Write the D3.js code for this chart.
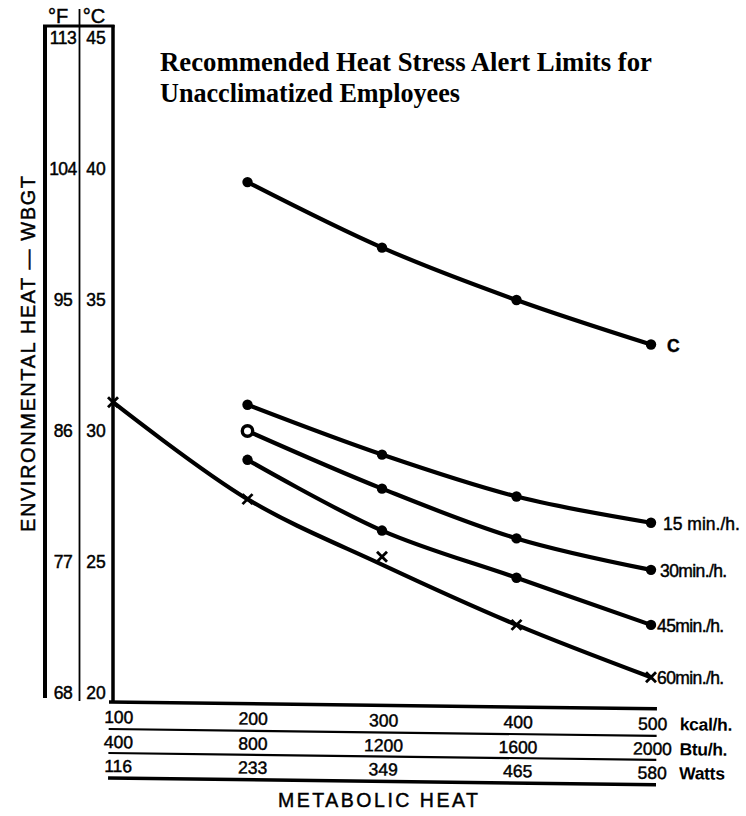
<!DOCTYPE html>
<html><head><meta charset="utf-8">
<script src="https://cdn.jsdelivr.net/npm/d3@7"></script>
<style>body{margin:0;background:#fff}svg{display:block}</style>
</head><body><svg id="c" width="746" height="816"></svg>
<script>
// ---- data ----
const kcal = [100, 200, 300, 400, 500];
const btu = [400, 800, 1200, 1600, 2000];
const watts = [116, 233, 349, 465, 580];
const fTicks = [113, 104, 95, 86, 77, 68];
const cTicks = [45, 40, 35, 30, 25, 20];
const curveX = [200, 300, 400, 500];
const ceilingC = [39.5, 37.0, 35.0, 33.3];
const min15 = [31.0, 29.1, 27.5, 26.5];
const min30 = [30.0, 27.8, 25.9, 24.7];
const min45 = [28.9, 26.2, 24.4, 22.6];
const min60X = [100, 200, 300, 400, 500];
const min60Marks = [31.1, 27.4, 25.2, 22.6, 20.6];
const min60Line = [31.1, 27.4, 24.9, 22.6, 20.6];
const seriesLabels = ["C", "15 min./h.", "30min./h.", "45min./h.", "60min./h."];
const unitLabels = ["kcal/h.", "Btu/h.", "Watts"];
const titleLines = ["Recommended Heat Stress Alert Limits for", "Unacclimatized Employees"];

// ---- scales ----
const svg = d3.select("#c");
const x = d3.scaleLinear().domain([100, 500]).range([113, 651]);
const y = d3.scaleLinear().domain([20, 45]).range([693, 38]);
const sans = "'Liberation Sans', Arial, sans-serif";
const ink = sel => sel.attr("fill", "#000").attr("stroke", "#000").attr("stroke-width", 0.45);

// ---- left frame (°F / °C columns) ----
const frame = svg.append("g").attr("stroke", "#000").attr("fill", "none");
frame.append("line").attr("x1", 45).attr("x2", 45).attr("y1", 25).attr("y2", 698).attr("stroke-width", 4);
frame.append("line").attr("x1", 79.5).attr("x2", 79.5).attr("y1", 9).attr("y2", 701).attr("stroke-width", 1.8);
frame.append("line").attr("x1", x(100)).attr("x2", x(100)).attr("y1", 25).attr("y2", 703).attr("stroke-width", 3.5);
frame.append("line").attr("x1", 43).attr("x2", x(100) + 1.5).attr("y1", 26).attr("y2", 26).attr("stroke-width", 3);

svg.append("text").attr("x", 58).attr("y", 23).attr("text-anchor", "middle")
  .attr("font-family", sans).attr("font-size", 20).call(ink).text("°F");
svg.append("text").attr("x", 94).attr("y", 23).attr("text-anchor", "middle")
  .attr("font-family", sans).attr("font-size", 20).call(ink).text("°C");

svg.append("g").selectAll("text").data(fTicks).join("text")
  .attr("x", 63).attr("y", (d, i) => y(cTicks[i])).attr("dy", "0.36em")
  .attr("text-anchor", "middle").attr("font-family", sans).attr("font-size", 17.5)
  .attr("letter-spacing", -0.5).call(ink)
  .text(d => d);
svg.append("g").selectAll("text").data(cTicks).join("text")
  .attr("x", 96).attr("y", d => y(d)).attr("dy", "0.36em")
  .attr("text-anchor", "middle").attr("font-family", sans).attr("font-size", 17.5)
  .call(ink)
  .text(d => d);

// y title
svg.append("text")
  .attr("transform", "translate(35,354) rotate(-90)")
  .attr("text-anchor", "middle").attr("font-family", sans).attr("font-size", 20)
  .attr("textLength", 356).attr("lengthAdjust", "spacing").call(ink)
  .text("ENVIRONMENTAL  HEAT — WBGT");

// ---- title ----
svg.append("g").selectAll("text").data(titleLines).join("text")
  .attr("x", 160).attr("y", (d, i) => 71 + i * 31)
  .attr("font-family", "'Liberation Serif', 'Times New Roman', serif")
  .attr("font-weight", "bold").attr("font-size", 26.5)
  .attr("textLength", (d, i) => i === 0 ? 492 : 300).attr("lengthAdjust", "spacingAndGlyphs")
  .text(d => d);

// ---- bottom axis block (slightly skewed like the scan) ----
const bottom = svg.append("g").attr("transform", "rotate(0.72,110,702)");
const lineYs = [702, 729, 753, 778];
const lineW = [3.5, 2.2, 2.2, 3.5];
bottom.selectAll("line").data(lineYs).join("line")
  .attr("x1", 109).attr("x2", 657).attr("y1", d => d).attr("y2", d => d)
  .attr("stroke", "#000").attr("stroke-width", (d, i) => lineW[i]);
const rows = [kcal, btu, watts];
const rowBase = [723, 748, 772];
rows.forEach((row, r) => {
  bottom.append("g").selectAll("text").data(row).join("text")
    .attr("x", (d, i) => x(kcal[i]) + (i < 2 ? 6 : 2))
    .attr("y", rowBase[r]).attr("text-anchor", "middle")
    .attr("font-family", sans).attr("font-size", 17.5).call(ink).text(d => d);
  bottom.append("text").attr("x", 680).attr("y", rowBase[r])
    .attr("font-family", sans).attr("font-size", 17.5).attr("font-weight", "bold")
    .attr("letter-spacing", -0.3)
    .text(unitLabels[r]);
});
svg.append("text").attr("x", 378).attr("y", 807).attr("text-anchor", "middle")
  .attr("font-family", sans).attr("font-size", 19.5)
  .attr("textLength", 200).attr("lengthAdjust", "spacing").call(ink)
  .text("METABOLIC HEAT");

// ---- curves ----
const line = d3.line().x(d => x(d[0])).y(d => y(d[1])).curve(d3.curveCatmullRom.alpha(0.5));
const series = [
  { vals: ceilingC, xs: curveX },
  { vals: min15, xs: curveX },
  { vals: min30, xs: curveX },
  { vals: min45, xs: curveX }
];
const plot = svg.append("g");
series.forEach(s => {
  plot.append("path").datum(s.xs.map((xv, i) => [xv, s.vals[i]]))
    .attr("d", line).attr("fill", "none").attr("stroke", "#000")
    .attr("stroke-width", 4.2).attr("stroke-linecap", "round");
});
plot.append("path").datum(min60X.map((xv, i) => [xv, min60Line[i]]))
  .attr("d", line).attr("fill", "none").attr("stroke", "#000")
  .attr("stroke-width", 4.2).attr("stroke-linecap", "round");

// circle markers
series.forEach((s, si) => {
  plot.append("g").selectAll("circle").data(s.xs.map((xv, i) => [xv, s.vals[i]])).join("circle")
    .attr("cx", d => x(d[0])).attr("cy", d => y(d[1])).attr("r", 5.2)
    .attr("fill", (d, i) => (si === 2 && i === 0) ? "#fff" : "#000")
    .attr("stroke", "#000").attr("stroke-width", (d, i) => (si === 2 && i === 0) ? 3.4 : 0);
});
// x markers for 60 min/h
const xm = plot.append("g").attr("stroke", "#000").attr("stroke-width", 2.8);
min60X.forEach((xv, i) => {
  const cx = x(xv), cy = y(min60Marks[i]), s = 5;
  xm.append("line").attr("x1", cx - s).attr("y1", cy - s).attr("x2", cx + s).attr("y2", cy + s);
  xm.append("line").attr("x1", cx - s).attr("y1", cy + s).attr("x2", cx + s).attr("y2", cy - s);
});

// series labels at the right end
const endVals = [ceilingC[3], min15[3], min30[3], min45[3], min60Marks[4]];
const labelDx = [16, 12, 9, 6, 6];
svg.append("g").selectAll("text").data(seriesLabels).join("text")
  .attr("x", (d, i) => x(500) + labelDx[i]).attr("y", (d, i) => y(endVals[i]))
  .attr("dy", "0.4em").attr("font-family", sans).attr("font-size", 17.5)
  .attr("font-weight", (d, i) => i === 0 ? "bold" : "normal")
  .attr("letter-spacing", (d, i) => i === 1 ? 0 : -0.6)
  .call(ink)
  .text(d => d);
</script></body></html>
